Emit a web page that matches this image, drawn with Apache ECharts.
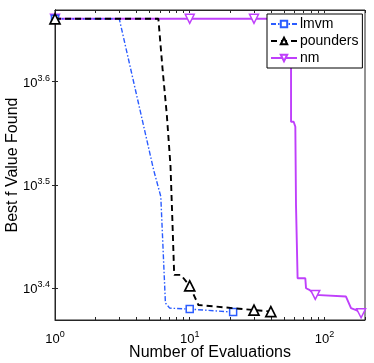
<!DOCTYPE html>
<html><head><meta charset="utf-8">
<script src="https://cdn.jsdelivr.net/npm/echarts@6/dist/echarts.min.js"></script>
<style>html,body{margin:0;padding:0;background:#fff}#c{width:374px;height:363px}</style>
</head><body><div id="c"></div>
<script>
// ---- data ----
const lmvmX = [1, 3, 5.4, 6.1, 6.6, 7.1, 10, 21];
const lmvmY = [4580, 4580, 3269, 3082, 2431, 2403, 2398, 2382];
const lmvmMarks = [1, 10, 21];

const poundersX = [1, 5.85, 6.3, 6.76, 7.2, 7.42, 7.67, 8.6, 10, 11.6, 30, 40];
const poundersY = [4580, 4580, 4082, 3698, 3300, 2947, 2588, 2588, 2525, 2420, 2393, 2385];
const poundersMarks = [1, 10, 30, 40];

const nmX = [1, 56.5, 56.5, 59.1, 60.8, 61.5, 63.2, 63.2, 72.1, 73.0, 77.3, 85.5, 144.5, 157.5, 171.7, 187];
const nmY = [4580, 4580, 3641, 3641, 3601, 3024, 3013, 2569, 2569, 2512, 2503, 2475, 2466, 2403, 2393, 2376];
const nmMarks = [1, 10, 30, 85.5, 187];
const nmFlatMarkX = [10, 30];

const xLabelExp = [0, 1, 2];
const yLabelExp = [3.4, 3.5, 3.6];
const xTickValues = [1,2,3,4,5,6,7,8,9,10,20,30,40,50,60,70,80,90,100,200];

const X_MIN = 1, X_MAX = 200;
const Y_MIN_EXP = 3.3693, Y_MAX_EXP = 3.6694;

// ---- build ----
const L = Math.log10;
function buildData(xs, ys, marks, extra) {
  const pts = xs.map((x, i) => ({x, y: ys[i], i}));
  (extra || []).forEach(x => pts.push({x, y: ys[0], i: 0.5}));
  pts.sort((a, b) => (a.x - b.x) || (a.i - b.i));
  return pts.map(p => {
    const item = {value: [L(p.x), L(p.y)]};
    if (marks.indexOf(p.x) < 0) item.symbol = 'none';
    return item;
  });
}

const blue = '#2b5cff', black = '#000000', mag = '#bf3ffb';
const font = 'Liberation Sans, Arial, Helvetica, sans-serif';
const rich = {
  b: {fontSize: 13, fontFamily: font, color: '#000', verticalAlign: 'bottom', lineHeight: 16},
  s: {fontSize: 9, fontFamily: font, color: '#000', verticalAlign: 'top', lineHeight: 16}
};

const chart = echarts.init(document.getElementById('c'), null, {renderer: 'canvas'});
const axisLineStyle = {color: '#262626', width: 1};
chart.setOption({
  animation: false,
  backgroundColor: '#fff',
  grid: {left: 55, right: 9, top: 10, bottom: 43, show: true, borderColor: '#262626', borderWidth: 1,
         containLabel: false, outerBoundsMode: 'none'},
  legend: {
    left: 267, top: 14, orient: 'vertical',
    backgroundColor: '#fff', borderColor: '#000', borderWidth: 1, borderRadius: 0,
    padding: [3, 4, 3, 3], itemGap: 3, itemWidth: 26, itemHeight: 8,
    textStyle: {fontSize: 14, fontFamily: font, color: '#000', padding: [0,0,0,-2]},
    data: ['lmvm', 'pounders', 'nm']
  },
  xAxis: [{
    type: 'value', min: L(X_MIN), max: L(X_MAX),
    name: 'Number of Evaluations', nameLocation: 'middle', nameGap: 25, nameMoveOverlap: false,
    nameTextStyle: {fontSize: 16, fontFamily: font, color: '#000'},
    axisLine: {show: true, lineStyle: axisLineStyle},
    splitLine: {show: false},
    axisTick: {show: true, inside: true, length: 3, lineStyle: axisLineStyle, customValues: xTickValues.map(L)},
    axisLabel: {show: true, margin: 10, customValues: xLabelExp, formatter: v => '{b|10}{s|' + Math.round(v) + '}', rich: rich}
  }, {
    type: 'value', position: 'top', min: L(X_MIN), max: L(X_MAX),
    axisLine: {show: true, lineStyle: axisLineStyle}, splitLine: {show: false},
    axisTick: {show: true, inside: true, length: 3, lineStyle: axisLineStyle, customValues: xTickValues.map(L)},
    axisLabel: {show: false}
  }],
  yAxis: [{
    type: 'value', min: Y_MIN_EXP, max: Y_MAX_EXP,
    name: 'Best f Value Found', nameLocation: 'middle', nameGap: 34, nameMoveOverlap: false,
    nameTextStyle: {fontSize: 16, fontFamily: font, color: '#000'},
    axisLine: {show: true, lineStyle: {color: '#000', width: 1}}, splitLine: {show: false},
    axisTick: {show: true, inside: true, length: 3, lineStyle: axisLineStyle, customValues: yLabelExp},
    axisLabel: {show: true, margin: 5, customValues: yLabelExp, formatter: v => '{b|10}{s|' + v.toFixed(1) + '}', rich: rich}
  }, {
    type: 'value', position: 'right', min: Y_MIN_EXP, max: Y_MAX_EXP,
    axisLine: {show: true, lineStyle: axisLineStyle}, splitLine: {show: false},
    axisTick: {show: true, inside: true, length: 3, lineStyle: axisLineStyle, customValues: yLabelExp},
    axisLabel: {show: false}
  }],
  series: [{
    name: 'nm', type: 'line', z: 2,
    data: buildData(nmX, nmY, nmMarks, nmFlatMarkX),
    symbol: 'triangle', symbolRotate: 180, symbolSize: 9, showSymbol: true,
    lineStyle: {color: mag, width: 1.9, type: 'solid'},
    itemStyle: {color: '#fff', borderColor: mag, borderWidth: 1.5}
  }, {
    name: 'lmvm', type: 'line', z: 3,
    data: buildData(lmvmX, lmvmY, lmvmMarks),
    symbol: 'rect', symbolSize: 7, showSymbol: true,
    lineStyle: {color: blue, width: 1.4, type: [5, 2, 1.5, 2]},
    itemStyle: {color: '#fff', borderColor: blue, borderWidth: 1.5}
  }, {
    name: 'pounders', type: 'line', z: 4,
    data: buildData(poundersX, poundersY, poundersMarks),
    symbol: 'triangle', symbolSize: 10, showSymbol: true,
    lineStyle: {color: black, width: 1.9, type: [6, 4]},
    itemStyle: {color: '#fff', borderColor: black, borderWidth: 1.7}
  }]
});
</script></body></html>
